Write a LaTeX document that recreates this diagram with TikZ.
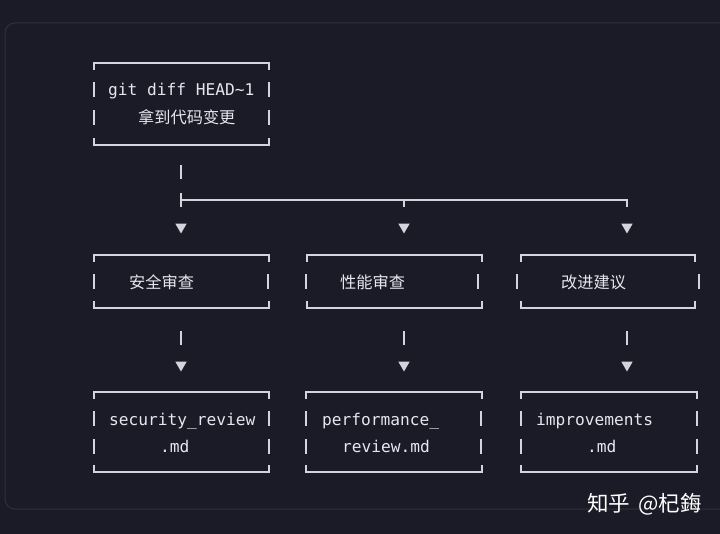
\documentclass[tikz,border=0pt]{standalone}
\usepackage{fontspec}
\setmonofont{DejaVu Sans Mono}
\newfontfamily\cjk{Noto Sans CJK SC}
\usetikzlibrary{shapes.geometric}
\definecolor{bgc}{HTML}{1B1B27}
\definecolor{framec}{HTML}{30303C}
\definecolor{linec}{HTML}{D4D4DC}
\definecolor{txtc}{HTML}{E6E6EE}
\newcommand\brk[1]{%
  \draw[ln] ([yshift=-7pt]#1.north west) -- (#1.north west) -- (#1.north east) -- ([yshift=-7pt]#1.north east);
  \draw[ln] ([yshift=7pt]#1.south west) -- (#1.south west) -- (#1.south east) -- ([yshift=7pt]#1.south east);}
\newcommand\mybar[2]{\draw[ln] (#1,#2-7.5) -- (#1,#2+7.5);}
\begin{document}
\begin{tikzpicture}[x=1pt,y=-1pt,
  ln/.style={draw=linec, line width=1.6pt},
  boxn/.style={draw=none, inner sep=0pt, outer sep=0pt},
  mono/.style={anchor=base west, inner sep=0pt, text=txtc, font=\ttfamily\fontsize{16.2}{19}\selectfont},
  cjkt/.style={anchor=base west, inner sep=0pt, text=txtc, font=\cjk\fontsize{16.2}{19}\selectfont},
  tri/.style={regular polygon, regular polygon sides=3, shape border rotate=180, fill=linec, minimum size=13pt, inner sep=0pt}]
\useasboundingbox (0,0) rectangle (720,534);
\fill[bgc] (0,0) rectangle (720,534);
\draw[framec, line width=1pt, rounded corners=10pt] (5,23) rectangle (740,509);

% top box
\node[boxn, minimum width=175pt, minimum height=82pt] (top) at (181.5,104) {};
\brk{top}
\mybar{94}{89.5}\mybar{269}{89.5}\mybar{94}{117.5}\mybar{269}{117.5}
\node[mono] (top1) at (108,96) {git diff HEAD\textasciitilde 1};
\node[cjkt] (top2) at (138,124) {拿到代码变更};

% connector from top
\coordinate (c0a) at (181,165);
\coordinate (c0b) at (181,179);
\draw[ln] (c0a) -- (c0b);
\coordinate (hl) at (181,200);
\coordinate (hm) at (404,200);
\coordinate (hr) at (627,200);
\draw[ln] (hl) -- (hr) -- ([yshift=-7pt]hr);
\draw[ln] (hm) -- ([yshift=-7pt]hm);
\draw[ln] ([yshift=7pt]hl) -- ([yshift=-7pt]hl);
\node[tri] (ta1) at (181,227) {};
\node[tri] (ta2) at (404,227) {};
\node[tri] (ta3) at (627,227) {};

% middle boxes
\node[boxn, minimum width=175pt, minimum height=53pt] (m1) at (181.5,281.5) {};
\node[boxn, minimum width=175pt, minimum height=53pt] (m2) at (394.5,281.5) {};
\node[boxn, minimum width=174pt, minimum height=53pt] (m3) at (608,281.5) {};
\brk{m1}\brk{m2}\brk{m3}
\mybar{94}{282}\mybar{268}{282}\mybar{306}{282}\mybar{478}{282}\mybar{517}{282}\mybar{699}{282}
\node[cjkt] (m1t) at (129,289) {安全审查};
\node[cjkt] (m2t) at (340,289) {性能审查};
\node[cjkt] (m3t) at (561,289) {改进建议};

% connectors middle -> bottom
\foreach \x/\n in {181/1,404/2,627/3}{
  \coordinate (d\n a) at (\x,331);
  \coordinate (d\n b) at (\x,345);
  \draw[ln] (d\n a) -- (d\n b);
  \node[tri] (tb\n) at (\x,365) {};
}

% bottom boxes
\node[boxn, minimum width=175pt, minimum height=80pt] (b1) at (181.5,432) {};
\node[boxn, minimum width=176pt, minimum height=80pt] (b2) at (394,432) {};
\node[boxn, minimum width=176pt, minimum height=80pt] (b3) at (609,432) {};
\brk{b1}\brk{b2}\brk{b3}
\foreach \y in {418.5,446.5}{
  \mybar{94}{\y}\mybar{269}{\y}\mybar{306}{\y}\mybar{481}{\y}\mybar{521}{\y}\mybar{697}{\y}
}
\node[mono] (b1a) at (109,425) {security\_review};
\node[mono] (b1b) at (160,452) {.md};
\node[mono] (b2a) at (322,425) {performance\_};
\node[mono] (b2b) at (342,452) {review.md};
\node[mono] (b3a) at (536,425) {improvements};
\node[mono] (b3b) at (587,452) {.md};

% watermark
\node[anchor=base west, inner sep=0pt, text=white, font=\cjk\fontsize{21.5}{24}\selectfont] (wm) at (587,511.5) {知乎\hspace{0.15em} @杞鋂};
\end{tikzpicture}
\end{document}
